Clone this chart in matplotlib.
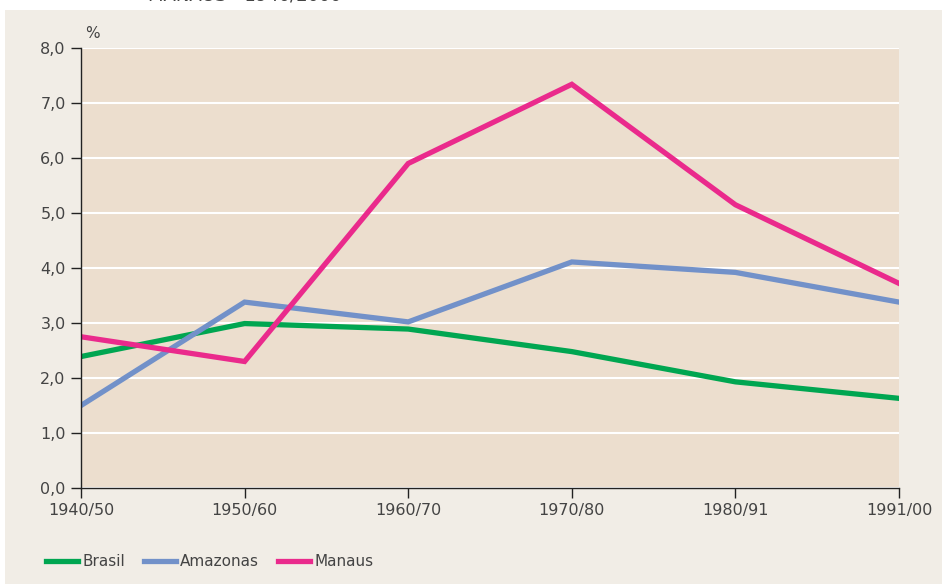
import matplotlib.pyplot as plt
from matplotlib.patches import Rectangle

# growth rates (% per year)
periods = ['1940/50', '1950/60', '1960/70', '1970/80', '1980/91', '1991/00']
brasil = [2.39, 2.99, 2.89, 2.48, 1.93, 1.63]
amazonas = [1.50, 3.38, 3.02, 4.11, 3.92, 3.38]
manaus = [2.75, 2.30, 5.90, 7.34, 5.15, 3.72]
yticks = [0, 1, 2, 3, 4, 5, 6, 7, 8]

plt.rcParams['font.family'] = ['DejaVu Sans']

fig = plt.figure(figsize=(9.42, 5.84), dpi=100, facecolor='white')
fig.patches.append(Rectangle((5 / 942, 0), 1, 1 - 10 / 584, transform=fig.transFigure,
                             facecolor='#f1ede6', edgecolor='none', zorder=-5))
fig.text(148 / 942, 1 + 4 / 584, 'MANAUS - 1940/2000', fontsize=13, color='#444444',
         va='center', ha='left')

ax = fig.add_axes([81 / 942, 1 - 488 / 584, 818 / 942, 440 / 584])
ax.set_facecolor('#ecdece')

x = range(len(periods))
ax.plot(x, brasil, color='#00a651', lw=3.8, label='Brasil', solid_joinstyle='miter')
ax.plot(x, amazonas, color='#7291c9', lw=3.8, label='Amazonas', solid_joinstyle='miter')
ax.plot(x, manaus, color='#ea2a8c', lw=3.8, label='Manaus', solid_joinstyle='miter')

ax.set_xlim(0, len(periods) - 1)
ax.set_ylim(0, 8)
ax.set_yticks(yticks)
ax.set_yticklabels([f'{v:.1f}'.replace('.', ',') for v in yticks])
ax.set_xticks(list(x))
ax.set_xticklabels(periods)
ax.grid(axis='y', color='white', lw=1.5)
ax.set_axisbelow(True)

for s in ['top', 'right']:
    ax.spines[s].set_visible(False)
for s in ['left', 'bottom']:
    ax.spines[s].set_color('#222222')
    ax.spines[s].set_linewidth(1.0)
ax.tick_params(direction='out', length=7, width=1, color='#222222',
               labelsize=11.5, labelcolor='#444444', pad=4)

ax.text(0.005, 1.015, '%', transform=ax.transAxes, fontsize=11, color='#444444',
        ha='left', va='bottom')

fig.legend(loc='center left', bbox_to_anchor=(32 / 942, 1 - 562 / 584), ncol=3,
           frameon=False, fontsize=11, handlelength=2.1, handletextpad=0.3,
           columnspacing=1.2, labelcolor='#444444')

fig.savefig('out.png', dpi=100, facecolor='white')
